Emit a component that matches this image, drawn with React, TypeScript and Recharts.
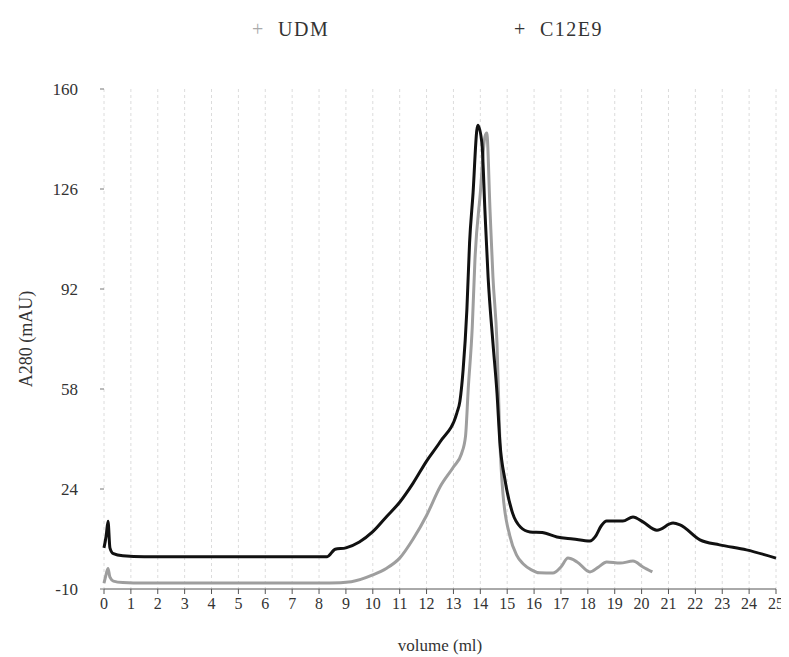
import { CartesianGrid, Label, Legend, Line, LineChart, XAxis, YAxis } from "recharts"

// elution volume (ml) / absorbance (mAU)
const udmVolume = [0, 0.08, 0.15, 0.22, 0.35, 0.7, 1.5, 3, 5, 7, 8.4, 9.2, 10, 10.5, 11, 11.5, 12, 12.5, 13, 13.3, 13.45, 13.55, 13.7, 13.8, 14, 14.17, 14.24, 14.36, 14.47, 14.62, 14.73, 14.84, 15.1, 15.35, 15.6, 15.9, 16.2, 16.7, 17.0, 17.26, 17.6, 18.08, 18.4, 18.7, 19.2, 19.68, 20.05, 20.4]
const udmSignal = [-8, -5, -3, -6, -7.3, -7.8, -8, -8, -8, -8, -8, -7.5, -5.2, -3, 0.5, 7, 15, 24.7, 31.5, 36, 42, 58, 79, 101.9, 124.7, 143.7, 145, 119, 96, 73.6, 39.7, 22.6, 8, 1.5, -1.5, -3.5, -4.5, -4.6, -2.5, 0.5, -0.8, -4.2, -2.5, -0.8, -1.2, -0.5, -2.5, -4.2]

const c12e9Volume = [0, 0.08, 0.15, 0.22, 0.35, 0.7, 1.5, 3, 5, 7, 8.3, 8.6, 9, 9.5, 10, 10.5, 11, 11.5, 12, 12.5, 13.13, 13.24, 13.36, 13.5, 13.6, 13.73, 13.87, 13.91, 14.06, 14.17, 14.29, 14.47, 14.62, 14.73, 14.92, 15.2, 15.5, 15.85, 16.3, 16.85, 17.45, 18.08, 18.27, 18.5, 18.7, 19.3, 19.68, 20.05, 20.57, 21.17, 21.43, 22.17, 22.9, 23.9, 25]
const c12e9Signal = [4, 8, 13, 4, 2, 1.3, 1, 1, 1, 1, 1, 3.5, 4, 6, 9.5, 14.5, 19.5, 26, 33.5, 40, 49.9, 53.8, 64.5, 85, 107.7, 124.7, 146, 147.7, 141.5, 118.9, 96, 73.6, 56.7, 39.7, 27, 15.8, 11, 9.4, 9.2, 7.7, 7, 6.3, 7.7, 11.5, 13.1, 13.1, 14.5, 12.8, 10, 12.4, 11.8, 6.7, 5, 3.3, 0.5]

const xTicks = [0, 1, 2, 3, 4, 5, 6, 7, 8, 9, 10, 11, 12, 13, 14, 15, 16, 17, 18, 19, 20, 21, 22, 23, 24, 25]
const yTicks = [-10, 24, 58, 92, 126, 160]

const udmData = udmVolume.map((x, i) => ({ x, y: udmSignal[i] }))
const c12e9Data = c12e9Volume.map((x, i) => ({ x, y: c12e9Signal[i] }))

const font = "'Liberation Serif', 'DejaVu Serif', serif"

const LegendRow = () => (
  <div style={{ position: "relative", height: 30, fontFamily: font, fontSize: 20, color: "#333" }}>
    <span style={{ position: "absolute", left: 244, top: 0, color: "#aaa" }}>+</span>
    <span style={{ position: "absolute", left: 270, top: 0, letterSpacing: 1.5 }}>UDM</span>
    <span style={{ position: "absolute", left: 506, top: 0, color: "#333" }}>+</span>
    <span style={{ position: "absolute", left: 532, top: 0, letterSpacing: 1.5 }}>C12E9</span>
  </div>
)

export default function App() {
  return (
    <LineChart width={781} height={649} margin={{ top: 51, right: 13, left: 0, bottom: 0 }}>
      <CartesianGrid horizontal={false} stroke="#dcdcdc" strokeDasharray="3 3" />
      <XAxis
        dataKey="x"
        type="number"
        domain={[0, 25]}
        ticks={xTicks}
        interval={0}
        height={68}
        stroke="#555"
        tickSize={5}
        tickMargin={4}
        tick={{ fill: "#333", fontSize: 16, fontFamily: font }}
        allowDuplicatedCategory={false}
      >
        <Label value="volume (ml)" position="insideBottom" offset={6} style={{ fill: "#333", fontSize: 17, fontFamily: font }} />
      </XAxis>
      <YAxis
        dataKey="y"
        type="number"
        domain={[-10, 160]}
        ticks={yTicks}
        interval={0}
        width={96}
        axisLine={false}
        tickSize={4}
        tickLine={{ stroke: "#777" }}
        tickMargin={22}
        tick={{ fill: "#333", fontSize: 17, fontFamily: font }}
      >
        <Label
          value="A280 (mAU)"
          angle={-90}
          position="insideLeft"
          offset={18}
          style={{ fill: "#333", fontSize: 18, fontFamily: font, textAnchor: "middle" }}
        />
      </YAxis>
      <Legend verticalAlign="top" wrapperStyle={{ top: 10, left: 0, width: 781 }} content={() => <LegendRow />} />
      <Line
        data={udmData}
        dataKey="y"
        name="UDM"
        type="monotone"
        stroke="#9e9e9e"
        strokeWidth={3}
        dot={false}
        isAnimationActive={false}
      />
      <Line
        data={c12e9Data}
        dataKey="y"
        name="C12E9"
        type="monotone"
        stroke="#111"
        strokeWidth={3}
        dot={false}
        isAnimationActive={false}
      />
    </LineChart>
  )
}
